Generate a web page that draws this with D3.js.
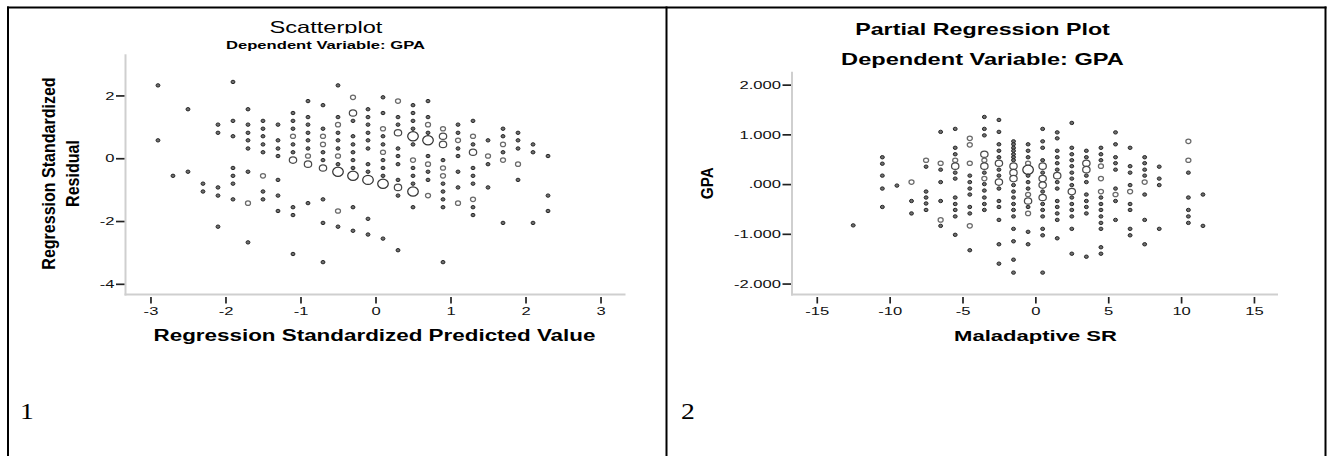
<!DOCTYPE html>
<html>
<head>
<meta charset="utf-8">
<script src="https://cdn.jsdelivr.net/npm/d3@7"></script>
<style>
  body { margin: 0; background: #fff; }
  svg { display: block; }
  text { font-family: "Liberation Sans", Arial, sans-serif; }
</style>
</head>
<body>
<svg id="chart" width="1331" height="456"></svg>
<script>
// ---- data ----
// panel 1: residuals grouped by predicted value column; [value, n] marks overlapping cases
const p1Predicted = [-2.9, -2.7, -2.5, -2.3, -2.1, -1.9, -1.7, -1.5, -1.3, -1.1, -0.9, -0.7, -0.5, -0.3,
    -0.1, 0.1, 0.3, 0.5, 0.7, 0.9, 1.1, 1.3, 1.5, 1.7, 1.9, 2.1, 2.3];
const p1Residual = [
    [2.32, 0.57],
    [-0.56],
    [1.56, -0.43],
    [-0.81, -1.06],
    [1.07, 0.81, -0.93, -1.19, -2.18],
    [2.43, 1.19, 0.70, -0.31, -0.56, -0.81, -1.31],
    [1.56, 1.07, 0.81, 0.57, 0.31, -0.43, [-1.43, 2], -2.68],
    [1.19, 0.94, 0.70, 0.44, 0.19, [-0.56, 2], -1.06, -1.31],
    [1.07, 0.57, 0.31, 0.07, -0.69, -1.19, -1.68],
    [1.44, 1.19, 0.94, [0.70, 2], 0.44, 0.19, [-0.06, 3], -1.56, -1.81, -3.05],
    [1.82, 1.31, 1.07, 0.81, 0.57, 0.31, [0.07, 2], [-0.19, 3], -1.43],
    [1.69, 0.94, [0.70, 2], [0.44, 2], 0.19, -0.06, [-0.31, 3], -1.31, -2.06, -3.31],
    [2.32, 1.31, [1.07, 2], 0.81, 0.57, 0.31, [0.07, 2], -0.19, [-0.43, 4], [-1.68, 2], -2.18],
    [[1.94, 2], [1.44, 3], 1.19, 0.70, 0.44, 0.19, -0.06, -0.31, [-0.56, 4], -1.56, -2.31],
    [1.56, 1.31, 1.07, 0.81, 0.57, 0.31, -0.19, -0.43, [-0.69, 4], -1.93, -2.43],
    [1.94, 1.44, [0.94, 2], 0.70, 0.44, [0.19, 2], -0.06, -0.31, -0.56, [-0.81, 4], -2.56],
    [[1.82, 2], 1.31, 1.07, [0.81, 3], 0.31, 0.07, -0.19, -0.69, [-0.93, 3], -1.19, -2.93],
    [1.69, 1.44, 1.19, 0.94, [0.70, 4], 0.44, [-0.06, 2], -0.31, -0.56, -0.81, [-1.06, 4], -1.56],
    [1.82, 1.31, [1.07, 2], 0.81, [0.57, 4], 0.07, [-0.19, 2], -0.43, -0.69, [-1.19, 2]],
    [[0.94, 2], [0.70, 3], [0.44, 3], -0.06, [-0.31, 2], [-0.56, 2], -0.81, -1.06, -1.31, -1.56, -3.31],
    [1.07, 0.81, [0.57, 2], 0.31, 0.07, -0.43, -0.93, [-1.43, 2]],
    [1.19, [0.70, 2], 0.44, [0.19, 3], -0.31, -0.56, -0.81, [-1.31, 2], -1.56, -1.81],
    [0.57, [0.07, 2], -0.19, -0.93],
    [0.94, 0.70, [0.44, 2], 0.19, [-0.06, 2], -2.06],
    [0.81, 0.57, 0.31, [-0.19, 2], -0.69],
    [0.44, 0.19, -2.06],
    [0.07, -1.19, -1.68]
];
const p1XTicks = [-3, -2, -1, 0, 1, 2, 3];
const p1YTicks = [-4, -2, 0, 2];

// panel 2: partial regression, GPA residual by Maladaptive SR column
const p2Maladaptive = [-12.5, -10.5, -9.5, -8.5, -7.5, -6.5, -5.5, -4.5, -3.5, -2.5, -1.5, -0.5, 0.5, 1.5,
    2.5, 3.5, 4.5, 5.5, 6.5, 7.5, 8.5, 10.5, 11.5];
const p2Gpa = [
    [-0.83],
    [0.54, 0.41, 0.17, -0.09, -0.46],
    [-0.03],
    [[0.04, 2], -0.34, -0.59],
    [[0.48, 2], 0.35, -0.15, -0.27, -0.39, -0.52],
    [1.05, [0.42, 2], 0.29, 0.04, -0.34, [-0.72, 2], -0.84],
    [1.11, 0.73, 0.60, [0.48, 2], [0.36, 3], 0.23, 0.11, -0.27, -0.40, -0.52, -0.65, -1.02],
    [[0.92, 2], [0.79, 2], [0.42, 2], 0.17, 0.04, -0.09, -0.21, -0.46, -0.59, [-0.84, 2], -1.33],
    [1.35, 1.11, 0.98, [0.60, 3], [0.48, 2], [0.36, 3], 0.23, [0.11, 2], 0.00, -0.13, -0.27, -0.40, -0.52],
    [1.29, 1.05, 0.80, 0.67, 0.54, [0.42, 3], 0.29, 0.17, [0.04, 3], -0.09, -0.34, -0.46, -0.72, -1.21, -1.60],
    [0.86, 0.80, 0.73, 0.67, 0.60, 0.54, 0.48, [0.36, 3], [0.23, 3], [0.11, 3], -0.02, -0.15, -0.27, -0.40,
        -0.52, -0.65, -0.90, -1.15, -1.52, -1.78],
    [0.80, 0.67, 0.54, [0.42, 2], [0.29, 4], 0.17, 0.04, -0.09, [-0.21, 2], [-0.34, 3], -0.46, [-0.59, 2], -0.96, -1.21],
    [1.11, 0.86, 0.73, 0.48, [0.36, 3], 0.23, [0.11, 3], [-0.02, 3], -0.15, [-0.27, 3], -0.40, -0.52, -0.65,
        -0.90, -1.03, -1.78],
    [1.04, 0.92, 0.67, 0.54, 0.42, 0.29, [0.17, 3], 0.04, -0.09, -0.34, -0.46, -0.59, -0.72, -1.09],
    [1.23, 0.73, 0.60, 0.48, 0.36, 0.23, 0.11, -0.02, [-0.15, 3], -0.27, -0.40, -0.52, -0.65, -0.90, -1.40],
    [0.67, 0.54, [0.42, 3], [0.29, 3], 0.17, 0.04, -0.21, -0.34, -0.46, -0.59, -1.46],
    [0.73, 0.60, 0.48, [0.36, 2], [0.11, 2], [-0.15, 2], -0.27, -0.40, -0.52, -0.65, -0.78, -0.90, -1.27, -1.40],
    [1.04, 0.80, 0.54, 0.42, 0.29, -0.09, [-0.21, 2], -0.34, -0.72],
    [0.73, 0.36, 0.23, -0.02, [-0.15, 2], -0.40, -0.52, -0.90, -1.03],
    [0.54, 0.42, 0.29, 0.17, [0.04, 2], -0.21, -0.72, -1.21],
    [0.35, 0.11, -0.02, -0.90],
    [[0.86, 2], [0.48, 2], 0.23, -0.27, -0.52, -0.65, -0.78],
    [-0.21, -0.84]
];
const p2XTicks = [-15, -10, -5, 0, 5, 10, 15];
const p2YTicks = [-2, -1, 0, 1, 2];

// ---- drawing ----
const HSTRETCH = 1.43; // the source picture is squeezed wide, so horizontal text is too
const svg = d3.select('#chart');

// plain hyphen minus like SPSS output
const locale = d3.formatLocale({ decimal: '.', thousands: ',', grouping: [3], currency: ['', ''], minus: '-' });
const fmtInt = locale.format('d');
const fmtGpa = function (v) {
    // SPSS drops the leading zero: .000, 1.000, -1.000
    const s = locale.format('.3f')(v);
    return v === 0 ? '.000' : s;
};

// widen (or narrow) a text element along its own reading direction
function stretch(sel, k) {
    sel.each(function () {
        const len = this.getComputedTextLength();
        d3.select(this).attr('textLength', len * k).attr('lengthAdjust', 'spacingAndGlyphs');
    });
}

function flatten(cols, vals) {
    const pts = [];
    cols.forEach(function (x, i) {
        vals[i].forEach(function (v) {
            const p = Array.isArray(v) ? v : [v, 1];
            pts.push({ x: x, y: p[0], n: p[1] });
        });
    });
    return pts;
}

// marker look by overlap count
const markerR = { 1: 1.7, 2: 2.2, 3: 3.2, 4: 4.6 };
const markerFill = { 1: '#6e6e6e', 2: '#fff', 3: '#fff', 4: '#fff' };
const markerStroke = { 1: '#262626', 2: '#6a6a6a', 3: '#4a4a4a', 4: '#333' };

function drawPanel(cfg) {
    const x = d3.scaleLinear().domain(cfg.xDomain).range(cfg.xRange);
    const y = d3.scaleLinear().domain(cfg.yDomain).range(cfg.yRange);
    const g = svg.append('g');

    // light gray frame on left and bottom
    g.append('line')
        .attr('x1', cfg.xRange[0]).attr('x2', cfg.xRange[0])
        .attr('y1', cfg.yRange[1]).attr('y2', cfg.yRange[0] + 1)
        .attr('stroke', '#cfcfcf').attr('stroke-width', 2);
    g.append('line')
        .attr('x1', cfg.xRange[0] - 1).attr('x2', cfg.xRange[1])
        .attr('y1', cfg.yRange[0]).attr('y2', cfg.yRange[0])
        .attr('stroke', '#cfcfcf').attr('stroke-width', 2);

    const xAxis = g.append('g')
        .attr('transform', 'translate(0,' + (cfg.yRange[0] + 2.5) + ')')
        .call(d3.axisBottom(x).tickValues(cfg.xTicks).tickFormat(cfg.xFormat)
            .tickSizeInner(6.5).tickSizeOuter(0).tickPadding(3.5));
    const yAxis = g.append('g')
        .attr('transform', 'translate(' + (cfg.xRange[0] - 1) + ',0)')
        .call(d3.axisLeft(y).tickValues(cfg.yTicks).tickFormat(cfg.yFormat)
            .tickSizeInner(8.5).tickSizeOuter(0).tickPadding(1.5));

    [xAxis, yAxis].forEach(function (ax) {
        ax.select('.domain').remove();
        ax.attr('font-family', null).attr('font-size', null);
        ax.selectAll('.tick line').attr('stroke', '#222').attr('stroke-width', 1.7);
        ax.selectAll('.tick text')
            .attr('fill', '#111')
            .style('font-size', '11.6px')
            .call(stretch, HSTRETCH);
    });

    g.append('g')
        .selectAll('ellipse')
        .data(flatten(cfg.cols, cfg.vals))
        .join('ellipse')
        .attr('cx', function (d) { return x(d.x); })
        .attr('cy', function (d) { return y(d.y); })
        .attr('rx', function (d) { return markerR[d.n] * 1.15; })
        .attr('ry', function (d) { return markerR[d.n]; })
        .attr('fill', function (d) { return markerFill[d.n]; })
        .attr('stroke', function (d) { return markerStroke[d.n]; })
        .attr('stroke-width', function (d) { return d.n === 1 ? 1 : 1.25; });
}

drawPanel({
    cols: p1Predicted, vals: p1Residual,
    xDomain: [-3.333, 3.333], xRange: [125.5, 625.5],
    yDomain: [-4.34, 3.31], yRange: [294.5, 54.3],
    xTicks: p1XTicks, yTicks: p1YTicks,
    xFormat: fmtInt, yFormat: fmtInt
});

drawPanel({
    cols: p2Maladaptive, vals: p2Gpa,
    xDomain: [-16.7, 16.65], xRange: [792, 1278],
    yDomain: [-2.22, 2.26], yRange: [294.5, 71.7],
    xTicks: p2XTicks, yTicks: p2YTicks,
    xFormat: fmtInt, yFormat: fmtGpa
});

// ---- titles and labels ----
svg.append('clipPath').attr('id', 'titleClip')
    .append('rect').attr('x', 0).attr('y', 0).attr('width', 666).attr('height', 33.5);

function label(txt, px, py, size, weight, k, rotate) {
    const t = svg.append('text')
        .attr('text-anchor', 'middle')
        .style('font-size', size + 'px')
        .style('font-weight', weight)
        .attr('fill', '#000')
        .text(txt);
    if (rotate) t.attr('transform', 'translate(' + px + ',' + py + ') rotate(-90)');
    else t.attr('x', px).attr('y', py);
    t.call(stretch, k);
    return t;
}

label('Scatterplot', 326, 33, 16.5, 'normal', HSTRETCH).attr('clip-path', 'url(#titleClip)');
label('Dependent Variable: GPA', 325.5, 49, 11.3, 'bold', 1.47);
label('Regression Standardized Predicted Value', 374.5, 341, 16, 'bold', 1.40);
label('Regression Standardized', 55, 173.5, 18, 'bold', 0.89, true);
label('Residual', 79, 173.5, 18, 'bold', 0.89, true);

label('Partial Regression Plot', 982.5, 34.5, 16.5, 'bold', 1.41);
label('Dependent Variable: GPA', 982.5, 64.5, 16.5, 'bold', 1.43);
label('Maladaptive SR', 1035.5, 341, 15.3, 'bold', 1.44);
label('GPA', 713, 183.3, 16, 'bold', 0.95, true);

// cell numbers of the surrounding table
[['1', 20], ['2', 681]].forEach(function (c) {
    svg.append('text')
        .attr('x', c[1]).attr('y', 419)
        .style('font-family', '"Liberation Serif", "Times New Roman", serif')
        .style('font-size', '23px')
        .attr('fill', '#000')
        .text(c[0])
        .call(stretch, 1.2);
});

// table borders
const borderX = [8, 666.5, 1325.5];
borderX.forEach(function (bx) {
    svg.append('line').attr('x1', bx).attr('x2', bx).attr('y1', 6.5).attr('y2', 456)
        .attr('stroke', '#000').attr('stroke-width', 2);
});
svg.append('line').attr('x1', 7).attr('x2', 1326.5).attr('y1', 7.5).attr('y2', 7.5)
    .attr('stroke', '#000').attr('stroke-width', 2);
</script>
</body>
</html>
